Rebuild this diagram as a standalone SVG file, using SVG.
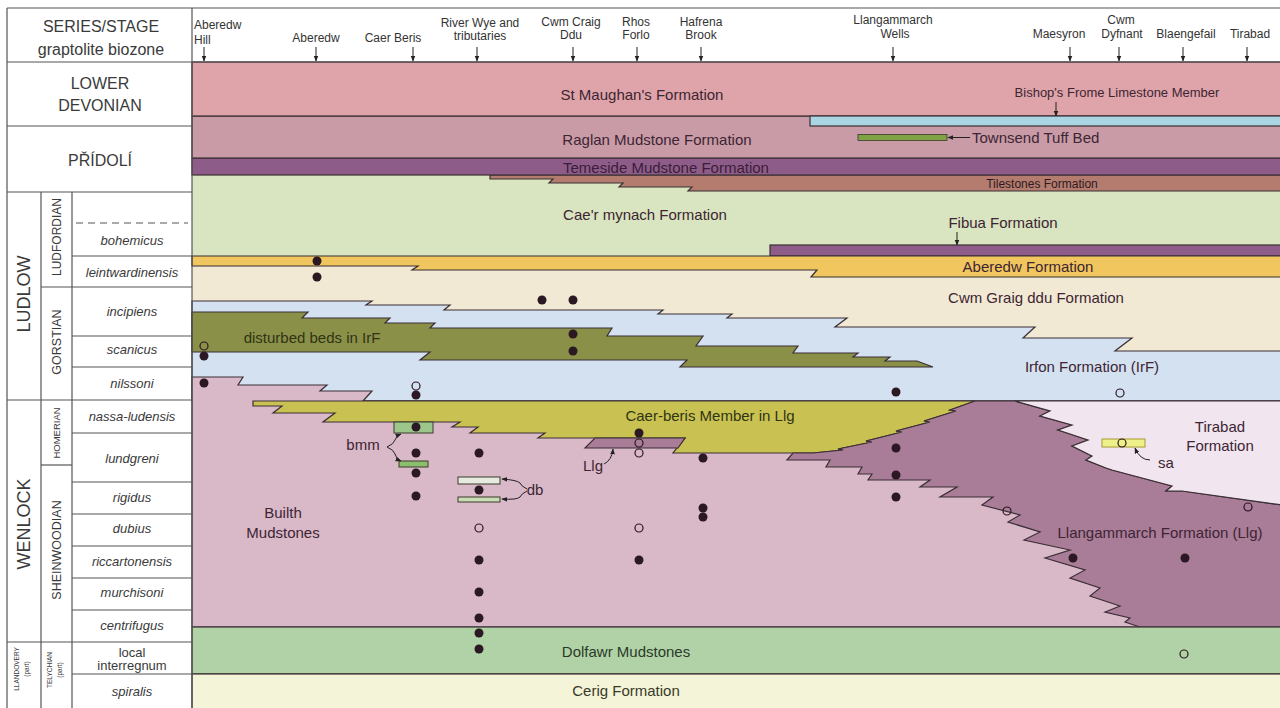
<svg xmlns="http://www.w3.org/2000/svg" width="1280" height="708" viewBox="0 0 1280 708">
<style>
.b{stroke:#3b2f35;stroke-width:1.2;stroke-linejoin:miter}
.t{font-family:"Liberation Sans",Arial,sans-serif;fill:#3d2533;font-size:15px;text-anchor:middle}
.h{font-family:"Liberation Sans",Arial,sans-serif;font-size:12px;text-anchor:middle;fill:#333}
.s{font-family:"Liberation Sans",Arial,sans-serif;fill:#3a3a3a;text-anchor:middle}
.z{font-family:"Liberation Sans",Arial,sans-serif;font-style:italic;font-size:13px;text-anchor:middle;fill:#3a3a3a}
.tl{stroke:#555;stroke-width:1.2;fill:none}
.d{fill:#2a1822}
.o{fill:none;stroke:#2a1822;stroke-width:1.2}
.ar{stroke:#222;stroke-width:1;fill:none}
</style>
<defs>
<marker id="ah" viewBox="0 0 10 10" refX="9" refY="5" markerWidth="6" markerHeight="6" orient="auto"><path d="M0,1 L10,5 L0,9 z" fill="#222"/></marker>
</defs>
<rect x="0" y="0" width="1280" height="708" fill="#fff"/>

<g id="formations">
<rect id="caermynach" x="192" y="175" width="1088" height="81" fill="#d9e4c0"/>
<polygon id="tilestones" class="b" fill="#b47c6e" points="490,175 1282,175 1282,191 688,191 692,187 619,187 623,183 549,183 553,179 490,179"/>
<rect id="temeside" class="b" x="192" y="158" width="1090" height="17" fill="#8e5c88"/>
<rect id="raglan" class="b" x="192" y="116" width="1090" height="42" fill="#c99ba7"/>
<rect id="stmaughan" class="b" x="192" y="62" width="1090" height="54" fill="#dfa4a9"/>
<rect id="bishops" class="b" x="810" y="116" width="472" height="10" fill="#a9d6e2"/>
<rect id="fibua" class="b" x="770" y="245" width="512" height="11" fill="#8e5c88"/>
<rect id="cwmgraig" x="192" y="256" width="1088" height="100" fill="#f1e9d3"/>
<polygon id="aberedw" class="b" fill="#f1c65f" points="192,256 1282,256 1282,277 811,277 817,270 412,270 418,266 192,266"/>
<polygon id="irfon" class="b" fill="#d3e1f1" points="192,301 372,301 366,305 450,305 444,310 663,310 658,314 732,314 727,318 847,318 835,327 1035,327 1023,338 1132,338 1115,351 1282,351 1282,401 192,401"/>
<polygon id="disturbed" class="b" fill="#8b9049" points="192,312 308,312 302,318 390,318 385,323 435,323 430,328 612,328 607,336 703,336 696,346 798,346 793,353 858,353 853,357 890,357 885,361 917,361 933,367 680,367 687,360 420,360 430,352 192,352"/>
<polygon id="builth" class="b" fill="#d9b8c8" points="192,377 243,377 238,385 327,385 320,391 372,391 363,401 1282,401 1282,627 192,627"/>
<polygon id="caerberis" class="b" fill="#c9c252" points="253,401 975,401 950,410 956,411 924,421 930,422 896,431 902,432 866,441 872,442 838,449 843,450 813,453 673,453 685,438 538,438 545,433 470,433 478,427 452,427 460,422 323,422 335,413 273,413 282,406 253,406"/>
<polygon id="llglens" class="b" fill="#a97c98" points="595,438 685,438 678,448 585,448"/>
<polygon id="llangammarch" class="b" fill="#a97c98" points="787,460 793,453 813,453 843,450 838,449 872,442 866,441 902,432 896,431 930,422 924,421 956,411 950,410 975,401 1015,401 1050,411 1040,416 1072,425 1058,430 1088,440 1072,446 1092,456 1086,460 1106,468 1112,470 1172,486 1166,491 1182,491 1282,505 1282,627 1140,627 1125,622 1130,618 1105,612 1120,606 1090,596 1100,588 1070,578 1085,570 1045,558 1070,550 1024,540 1040,532 1008,522 1020,515 982,505 993,497 940,497 957,487 920,487 930,480 868,480 872,474 858,474 862,467 826,467 830,460"/>
<polygon id="tirabad" class="b" fill="#f1e5ef" points="1015,401 1282,401 1282,505 1182,491 1166,491 1172,486 1112,470 1106,468 1086,460 1092,456 1072,446 1088,440 1058,430 1072,425 1040,416 1050,411"/>
<rect id="dolfawr" class="b" x="192" y="627" width="1090" height="47" fill="#b1d2a7"/>
<rect id="cerig" class="b" x="192" y="674" width="1090" height="36" fill="#f3f4d8"/>
</g>

<g id="beds">
<rect x="858" y="134.5" width="89" height="6" fill="#7ea244" stroke="#3b3b2a" stroke-width="0.8"/>
<rect x="394" y="422" width="39" height="11" fill="#9dc68a" stroke="#3b3b2a" stroke-width="1"/>
<rect x="399" y="461" width="29" height="6" fill="#8bbf6e" stroke="#3b3b2a" stroke-width="1"/>
<rect x="458" y="477" width="42" height="7" fill="#e6eadf" stroke="#3b3b2a" stroke-width="1"/>
<rect x="458" y="497" width="42" height="5" fill="#c9dcb6" stroke="#3b3b2a" stroke-width="1"/>
<rect x="1102" y="439" width="43" height="8" fill="#eef08a" stroke="#a89a30" stroke-width="1"/>
</g>

<g id="connectors">
<line class="ar" x1="204" y1="47" x2="204" y2="61" marker-end="url(#ah)"/>
<line class="ar" x1="316" y1="47" x2="316" y2="61" marker-end="url(#ah)"/>
<line class="ar" x1="413" y1="47" x2="413" y2="61" marker-end="url(#ah)"/>
<line class="ar" x1="477" y1="47" x2="477" y2="61" marker-end="url(#ah)"/>
<line class="ar" x1="573" y1="47" x2="573" y2="61" marker-end="url(#ah)"/>
<line class="ar" x1="637" y1="47" x2="637" y2="61" marker-end="url(#ah)"/>
<line class="ar" x1="701" y1="47" x2="701" y2="61" marker-end="url(#ah)"/>
<line class="ar" x1="893" y1="47" x2="893" y2="61" marker-end="url(#ah)"/>
<line class="ar" x1="1070" y1="47" x2="1070" y2="61" marker-end="url(#ah)"/>
<line class="ar" x1="1119" y1="47" x2="1119" y2="61" marker-end="url(#ah)"/>
<line class="ar" x1="1183" y1="47" x2="1183" y2="61" marker-end="url(#ah)"/>
<line class="ar" x1="1247" y1="47" x2="1247" y2="61" marker-end="url(#ah)"/>
<line class="ar" x1="1056" y1="102" x2="1056" y2="116" marker-end="url(#ah)"/>
<line class="ar" x1="957" y1="232" x2="957" y2="245" marker-end="url(#ah)"/>
<line class="ar" x1="970" y1="137.5" x2="948" y2="137.5" marker-end="url(#ah)"/>
<path class="ar" d="M387,447 Q394,444 395,440 Q396,436 401,434" marker-end="url(#ah)"/>
<path class="ar" d="M387,447 Q394,450 395,454 Q396,459 401,461" marker-end="url(#ah)"/>
<path class="ar" d="M527,489 Q521,486 520,483 Q517,480 502,479" marker-end="url(#ah)"/>
<path class="ar" d="M527,491 Q521,494 520,497 Q517,500 502,499" marker-end="url(#ah)"/>
<path class="ar" d="M604,464 Q612,460 613,449" marker-end="url(#ah)"/>
<path class="ar" d="M1150,460 Q1140,460 1135,448" marker-end="url(#ah)"/>
</g>

<g id="dots">
<circle class="d" cx="317" cy="261" r="4.5"/><circle class="d" cx="317" cy="277" r="4.5"/>
<circle class="d" cx="542" cy="300" r="4.5"/><circle class="d" cx="573" cy="300" r="4.5"/>
<circle class="d" cx="573" cy="334" r="4.5"/><circle class="d" cx="573" cy="351" r="4.5"/>
<circle class="d" cx="204" cy="356" r="4.5"/><circle class="d" cx="204" cy="383" r="4.5"/>
<circle class="d" cx="416" cy="395" r="4.5"/><circle class="d" cx="896" cy="392" r="4.5"/>
<circle class="d" cx="416" cy="427" r="4.5"/><circle class="d" cx="416" cy="453" r="4.5"/>
<circle class="d" cx="416" cy="473" r="4.5"/><circle class="d" cx="416" cy="496" r="4.5"/>
<circle class="d" cx="479" cy="453" r="4.5"/><circle class="d" cx="479" cy="490" r="4.5"/>
<circle class="d" cx="479" cy="560" r="4.5"/><circle class="d" cx="479" cy="592" r="4.5"/>
<circle class="d" cx="479" cy="618" r="4.5"/><circle class="d" cx="479" cy="633" r="4.5"/>
<circle class="d" cx="479" cy="649" r="4.5"/>
<circle class="d" cx="639" cy="433" r="4.5"/><circle class="d" cx="639" cy="560" r="4.5"/>
<circle class="d" cx="703" cy="458" r="4.5"/><circle class="d" cx="703" cy="508" r="4.5"/>
<circle class="d" cx="703" cy="517" r="4.5"/>
<circle class="d" cx="896" cy="448" r="4.5"/><circle class="d" cx="896" cy="475" r="4.5"/>
<circle class="d" cx="896" cy="497" r="4.5"/>
<circle class="d" cx="1073" cy="558" r="4.5"/><circle class="d" cx="1185" cy="558" r="4.5"/>
<circle class="o" cx="204" cy="346" r="4"/><circle class="o" cx="416" cy="386" r="4"/>
<circle class="o" cx="1120" cy="393" r="4"/><circle class="o" cx="639" cy="443" r="4"/>
<circle class="o" cx="639" cy="453" r="4"/><circle class="o" cx="639" cy="528" r="4"/>
<circle class="o" cx="479" cy="528" r="4"/><circle class="o" cx="1122" cy="443" r="4"/>
<circle class="o" cx="1007" cy="511" r="4"/><circle class="o" cx="1248" cy="507" r="4"/>
<circle class="o" cx="1184" cy="654" r="4"/>
</g>

<g id="formation-labels">
<text class="t" x="642" y="100">St Maughan's Formation</text>
<text class="t" x="1117" y="97" style="font-size:13px">Bishop's Frome Limestone Member</text>
<text class="t" x="657" y="145">Raglan Mudstone Formation</text>
<text class="t" x="972" y="143" style="text-anchor:start">Townsend Tuff Bed</text>
<text class="t" x="666" y="173" style="fill:#3b1d3b">Temeside Mudstone Formation</text>
<text class="t" x="1042" y="188" style="font-size:12px;fill:#2e1a22">Tilestones Formation</text>
<text class="t" x="645" y="220">Cae'r mynach Formation</text>
<text class="t" x="1003" y="228">Fibua Formation</text>
<text class="t" x="1028" y="272">Aberedw Formation</text>
<text class="t" x="1036" y="303">Cwm Graig ddu Formation</text>
<text class="t" x="312" y="343" style="fill:#2f3414">disturbed beds in IrF</text>
<text class="t" x="1092" y="372">Irfon Formation (IrF)</text>
<text class="t" x="710" y="421" style="fill:#2f3414">Caer-beris Member in Llg</text>
<text class="t" x="1220" y="432">Tirabad</text>
<text class="t" x="1220" y="451">Formation</text>
<text class="t" x="363" y="450">bmm</text>
<text class="t" x="535" y="495">db</text>
<text class="t" x="593" y="471">Llg</text>
<text class="t" x="1158" y="468" style="text-anchor:start">sa</text>
<text class="t" x="283" y="518">Builth</text>
<text class="t" x="283" y="538">Mudstones</text>
<text class="t" x="1160" y="538">Llangammarch Formation (Llg)</text>
<text class="t" x="626" y="657" style="fill:#2a3a28">Dolfawr Mudstones</text>
<text class="t" x="626" y="696" style="fill:#3a3a28">Cerig Formation</text>
</g>

<g id="locations">
<text class="h" x="194" y="29" style="text-anchor:start">Aberedw</text>
<text class="h" x="194" y="44" style="text-anchor:start">Hill</text>
<text class="h" x="316" y="42">Aberedw</text>
<text class="h" x="393" y="42">Caer Beris</text>
<text class="h" x="480" y="27">River Wye and</text>
<text class="h" x="480" y="40">tributaries</text>
<text class="h" x="571" y="26">Cwm Craig</text>
<text class="h" x="571" y="39">Ddu</text>
<text class="h" x="636" y="26">Rhos</text>
<text class="h" x="636" y="39">Forlo</text>
<text class="h" x="701" y="26">Hafrena</text>
<text class="h" x="701" y="39">Brook</text>
<text class="h" x="893" y="24">Llangammarch</text>
<text class="h" x="895" y="38">Wells</text>
<text class="h" x="1059" y="38">Maesyron</text>
<text class="h" x="1121" y="24">Cwm</text>
<text class="h" x="1122" y="38">Dyfnant</text>
<text class="h" x="1186" y="38">Blaengefail</text>
<text class="h" x="1250" y="38">Tirabad</text>
</g>

<g id="timescale">
<line class="tl" x1="7" y1="8" x2="1280" y2="8"/>
<line class="tl" x1="7" y1="62" x2="1280" y2="62"/>
<line class="tl" x1="7" y1="8" x2="7" y2="708"/>
<line class="tl" x1="192" y1="8" x2="192" y2="708"/>
<line class="tl" x1="7" y1="126" x2="192" y2="126"/>
<line class="tl" x1="7" y1="192" x2="192" y2="192"/>
<line class="tl" x1="7" y1="400" x2="192" y2="400"/>
<line class="tl" x1="7" y1="642" x2="192" y2="642"/>
<line class="tl" x1="41" y1="192" x2="41" y2="708"/>
<line class="tl" x1="72" y1="192" x2="72" y2="708"/>
<line class="tl" x1="41" y1="287" x2="192" y2="287"/>
<line class="tl" x1="41" y1="465" x2="72" y2="465"/>
<line class="tl" x1="72" y1="256" x2="192" y2="256"/>
<line class="tl" x1="72" y1="336" x2="192" y2="336"/>
<line class="tl" x1="72" y1="367" x2="192" y2="367"/>
<line class="tl" x1="72" y1="433" x2="192" y2="433"/>
<line class="tl" x1="72" y1="482" x2="192" y2="482"/>
<line class="tl" x1="72" y1="514" x2="192" y2="514"/>
<line class="tl" x1="72" y1="546" x2="192" y2="546"/>
<line class="tl" x1="72" y1="578" x2="192" y2="578"/>
<line class="tl" x1="72" y1="610" x2="192" y2="610"/>
<line class="tl" x1="72" y1="674" x2="192" y2="674"/>
<line class="tl" x1="76" y1="223" x2="188" y2="223" stroke-dasharray="7,5"/>
<text class="s" x="101" y="32" style="font-size:16px">SERIES/STAGE</text>
<text class="s" x="101" y="55" style="font-size:16px">graptolite biozone</text>
<text class="s" x="100" y="89" style="font-size:16px">LOWER</text>
<text class="s" x="100" y="111" style="font-size:16px">DEVONIAN</text>
<text class="s" x="100" y="166" style="font-size:16px">PŘÍDOLÍ</text>
<text class="s" transform="translate(30,294) rotate(-90)" style="font-size:18px">LUDLOW</text>
<text class="s" transform="translate(30,524) rotate(-90)" style="font-size:18px">WENLOCK</text>
<text class="s" transform="translate(61,237) rotate(-90)" style="font-size:12px">LUDFORDIAN</text>
<text class="s" transform="translate(61,342) rotate(-90)" style="font-size:12.5px">GORSTIAN</text>
<text class="s" transform="translate(60,433) rotate(-90)" style="font-size:9.5px">HOMERIAN</text>
<text class="s" transform="translate(61,550) rotate(-90)" style="font-size:12.5px">SHEINWOODIAN</text>
<text class="s" transform="translate(19,669) rotate(-90)" style="font-size:6.5px">LLANDOVERY</text>
<text class="s" transform="translate(29,669) rotate(-90)" style="font-size:6.5px">(part)</text>
<text class="s" transform="translate(52,670) rotate(-90)" style="font-size:6.5px">TELYCHIAN</text>
<text class="s" transform="translate(62,670) rotate(-90)" style="font-size:6.5px">(part)</text>
<text class="z" x="132" y="245">bohemicus</text>
<text class="z" x="132" y="277">leintwardinensis</text>
<text class="z" x="132" y="316">incipiens</text>
<text class="z" x="132" y="354">scanicus</text>
<text class="z" x="132" y="388">nilssoni</text>
<text class="z" x="132" y="421">nassa-ludensis</text>
<text class="z" x="132" y="463">lundgreni</text>
<text class="z" x="132" y="502">rigidus</text>
<text class="z" x="132" y="533">dubius</text>
<text class="z" x="132" y="566">riccartonensis</text>
<text class="z" x="132" y="597">murchisoni</text>
<text class="z" x="132" y="630">centrifugus</text>
<text class="s" x="132" y="657" style="font-size:13px">local</text>
<text class="s" x="132" y="670" style="font-size:13px">interregnum</text>
<text class="z" x="132" y="696">spiralis</text>
</g>
</svg>
